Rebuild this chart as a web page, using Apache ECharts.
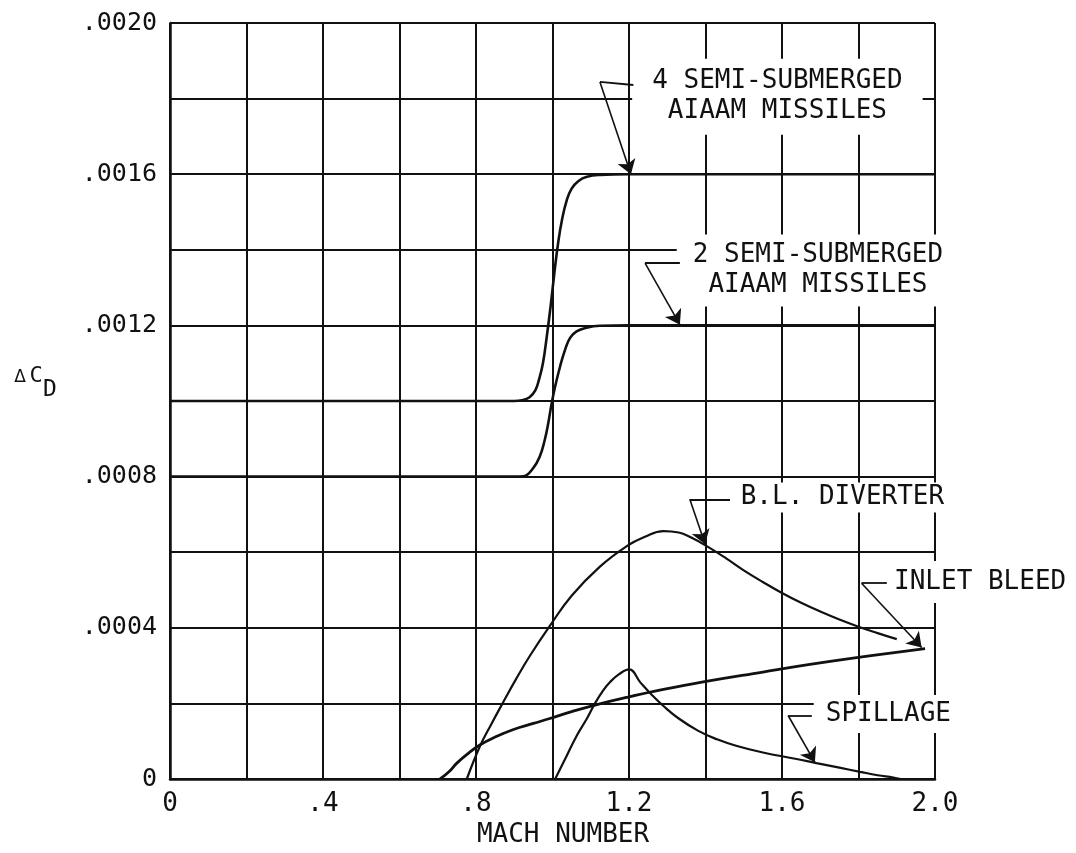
<!DOCTYPE html>
<html>
<head>
<meta charset="utf-8">
<script src="https://cdn.jsdelivr.net/npm/echarts@6/dist/echarts.min.js"></script>
<style>
  html, body { margin: 0; padding: 0; background: #fff; }
  #chart { width: 1076px; height: 853px; }
</style>
</head>
<body>
<div id="chart"></div>
<script>
// Tick labels (one entry per grid line)
const xTickLabels = ['0', '', '.4', '', '.8', '', '1.2', '', '1.6', '', '2.0'];
const yTickLabels = ['0', '', '.0004', '', '.0008', '', '.0012', '', '.0016', '', '.0020'];

// Drag increments, [Mach number, delta CD]
const fourMissiles = [
  [0, 0.0010], [0.90, 0.0010], [0.92, 0.001002], [0.94, 0.00101], [0.955, 0.001028],
  [0.965, 0.001058], [0.975, 0.0011], [0.985, 0.00117], [0.995, 0.00125], [1.005, 0.00134],
  [1.015, 0.00142], [1.025, 0.00148], [1.037, 0.00153], [1.05, 0.001562], [1.068, 0.001582],
  [1.09, 0.001593], [1.124, 0.001598], [1.2, 0.0016], [2.0, 0.0016]
];
const twoMissiles = [
  [0, 0.0008], [0.90, 0.0008], [0.924, 0.000801], [0.95, 0.000823], [0.967, 0.000854],
  [0.98, 0.000898], [0.989, 0.000942], [0.998, 0.000995], [1.007, 0.001039], [1.02, 0.001092],
  [1.033, 0.001136], [1.046, 0.001167], [1.063, 0.001184], [1.089, 0.001194], [1.124, 0.001199],
  [1.2, 0.0012], [2.0, 0.0012]
];
const blDiverter = [
  [0.776, 0], [0.81, 0.000086], [0.84, 0.000145], [0.871, 0.000203], [0.905, 0.000265],
  [0.941, 0.000326], [0.993, 0.000405], [1.05, 0.000485], [1.124, 0.000562], [1.194, 0.000616],
  [1.24, 0.00064], [1.29, 0.000656], [1.33, 0.000652], [1.36, 0.00064], [1.4, 0.000618],
  [1.455, 0.000583], [1.5, 0.000552], [1.55, 0.000521], [1.6, 0.000492], [1.65, 0.000466],
  [1.7, 0.000443], [1.75, 0.000422], [1.8, 0.000403], [1.85, 0.000386], [1.9, 0.00037]
];
const inletBleed = [
  [0.706, 0], [0.73, 0.00002], [0.75, 0.000042], [0.78, 0.000068], [0.81, 0.00009],
  [0.85, 0.000111], [0.898, 0.000131], [0.95, 0.000147], [0.993, 0.00016], [1.05, 0.000178],
  [1.116, 0.000197], [1.194, 0.000216], [1.29, 0.000237], [1.394, 0.000257], [1.55, 0.000283],
  [1.673, 0.000303], [1.795, 0.000321], [1.974, 0.000345]
];
const spillage = [
  [1.007, 0], [1.035, 0.000057], [1.063, 0.000114], [1.09, 0.00016], [1.111, 0.0002],
  [1.133, 0.000235], [1.15, 0.000256], [1.175, 0.000278], [1.2, 0.00029], [1.23, 0.000255],
  [1.26, 0.000222], [1.29, 0.000193], [1.33, 0.00016], [1.38, 0.000128], [1.43, 0.000105],
  [1.48, 0.000088], [1.55, 0.00007], [1.638, 0.000053], [1.69, 0.000042], [1.75, 0.00003],
  [1.804, 0.000019], [1.85, 0.00001], [1.891, 0.000004], [1.91, 0]
];

const FONT = "'DejaVu Sans Mono', 'Liberation Mono', monospace";
const INK = '#111';

// Callout text boxes with their leader lines (in axis units):
// leader = [text end of the bar, bend, arrow tip on the curve]
const callouts = [
  { text: '4 SEMI-SUBMERGED\nAIAAM MISSILES', at: [1.588, 0.001805], pad: [8, 20],
    leader: [[1.2115, 0.001836], [1.124, 0.001844], [1.205, 0.0016]] },
  { text: '2 SEMI-SUBMERGED\nAIAAM MISSILES', at: [1.694, 0.001345], pad: [6, 16],
    leader: [[1.333, 0.001365], [1.242, 0.001365], [1.333, 0.001202]] },
  { text: 'B.L. DIVERTER', at: [1.758, 0.000745], pad: [0, 8],
    leader: [[1.464, 0.00074], [1.359, 0.00074], [1.399, 0.000621]] },
  { text: 'INLET BLEED', at: [2.118, 0.000521], pad: [6, 8],
    leader: [[1.874, 0.000518], [1.808, 0.000518], [1.965, 0.000348]] },
  { text: 'SPILLAGE', at: [1.878, 0.000172], pad: [4, 12],
    leader: [[1.678, 0.000168], [1.616, 0.000168], [1.686, 0.000044]] }
];

const curve = (name, data, width) => ({
  name, type: 'line', data, showSymbol: false, smooth: 0.45,
  lineStyle: { color: INK, width }, z: 5, silent: true
});

const chart = echarts.init(document.getElementById('chart'), null, { renderer: 'canvas' });
chart.setOption({
  backgroundColor: '#fff',
  animation: false,
  grid: { left: 170, right: 141, top: 23, bottom: 73 },
  xAxis: {
    type: 'value', min: 0, max: 2, interval: 0.2,
    name: 'MACH NUMBER', nameLocation: 'middle', nameGap: 43,
    nameTextStyle: { fontFamily: FONT, fontSize: 26, color: INK, padding: [0, 0, 0, 21] },
    axisLine: { show: true, lineStyle: { color: INK, width: 2.5 } },
    axisTick: { show: false },
    axisLabel: {
      fontFamily: FONT, fontSize: 26, color: INK, margin: 12,
      showMinLabel: true, showMaxLabel: true,
      formatter: v => xTickLabels[Math.round(v / 0.2)] || ''
    },
    splitLine: { show: true, lineStyle: { color: INK, width: 2 } }
  },
  yAxis: {
    type: 'value', min: 0, max: 0.002, interval: 0.0002,
    axisLine: { show: true, lineStyle: { color: INK, width: 2.5 } },
    axisTick: { show: false },
    axisLabel: {
      fontFamily: FONT, fontSize: 25, color: INK, margin: 13,
      showMinLabel: true, showMaxLabel: true,
      formatter: v => yTickLabels[Math.round(v / 0.0002)] || ''
    },
    splitLine: { show: true, lineStyle: { color: INK, width: 2 } }
  },
  graphic: [
    { type: 'text', x: 20, y: 378, style: { text: '\u0394', font: "17px 'DejaVu Sans'", fill: INK, align: 'center', verticalAlign: 'middle' } },
    { type: 'text', x: 36, y: 376, style: { text: 'C', font: '22px ' + FONT, fill: INK, align: 'center', verticalAlign: 'middle' } },
    { type: 'text', x: 50, y: 390, style: { text: 'D', font: '23px ' + FONT, fill: INK, align: 'center', verticalAlign: 'middle' } }
  ],
  series: [
    curve('4 semi-submerged AIAAM missiles', fourMissiles, 2.6),
    curve('2 semi-submerged AIAAM missiles', twoMissiles, 2.6),
    curve('B.L. diverter', blDiverter, 2.2),
    curve('Inlet bleed', inletBleed, 2.8),
    curve('Spillage', spillage, 2.2),
    {
      name: 'callout text', type: 'scatter', symbolSize: 0, clip: false, silent: true, z: 3,
      itemStyle: { opacity: 1 },
      data: callouts.map(c => ({
        value: c.at,
        label: { formatter: c.text, padding: c.pad }
      })),
      label: {
        show: true, position: 'inside', align: 'center', verticalAlign: 'middle',
        fontFamily: FONT, fontSize: 26, lineHeight: 30, color: INK, opacity: 1,
        textBorderWidth: 0, backgroundColor: '#fff'
      }
    },
    {
      name: 'callout bars', type: 'lines', coordinateSystem: 'cartesian2d',
      silent: true, z: 4, symbol: 'none',
      lineStyle: { color: INK, width: 1.8, opacity: 1 },
      data: callouts.map(c => ({ coords: [c.leader[0], c.leader[1]] }))
    },
    {
      name: 'callout arrows', type: 'lines', coordinateSystem: 'cartesian2d',
      silent: true, z: 4, symbol: ['none', 'arrow'], symbolSize: [9, 14],
      lineStyle: { color: INK, width: 1.6, opacity: 1 },
      data: callouts.map(c => ({ coords: [c.leader[1], c.leader[2]] }))
    }
  ]
});
</script>
</body>
</html>
